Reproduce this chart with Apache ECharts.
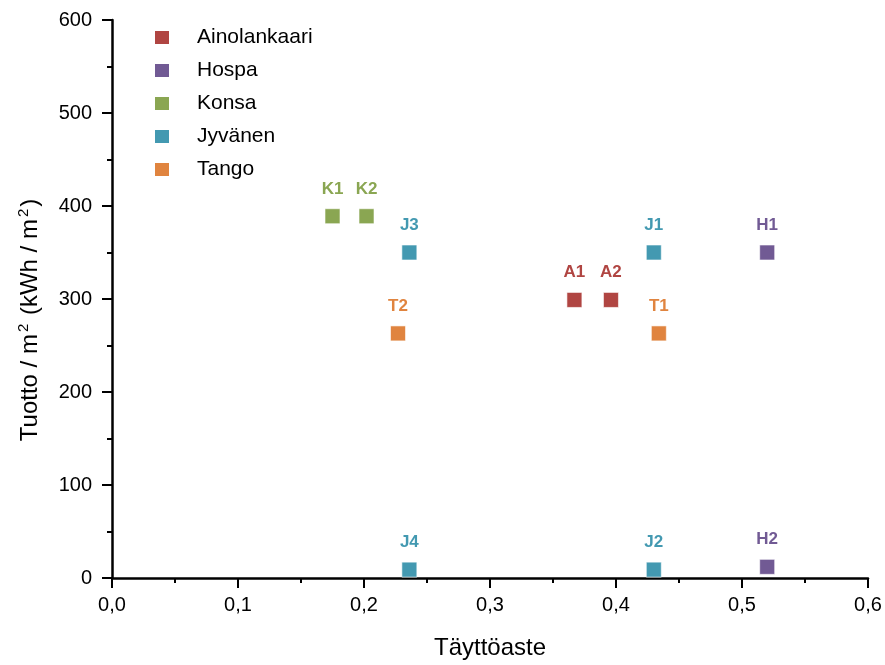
<!DOCTYPE html>
<html>
<head>
<meta charset="utf-8">
<script src="https://cdn.jsdelivr.net/npm/echarts@6/dist/echarts.min.js"></script>
<style>
  html, body { margin: 0; padding: 0; background: #fff; }
  #chart { width: 885px; height: 665px; }
</style>
</head>
<body>
<div id="chart"></div>
<script>
// Täyttöaste (x) vs. tuotto per m² (y), one series per site
const seriesNames = ['Ainolankaari', 'Hospa', 'Konsa', 'Jyvänen', 'Tango'];
const seriesColors = ['#B04542', '#715A94', '#8AA652', '#4399B1', '#E0843F'];

const ainolankaariX = [0.367, 0.396];
const ainolankaariY = [299, 299];
const ainolankaariLabels = ['A1', 'A2'];

const hospaX = [0.520, 0.520];
const hospaY = [350, 12];
const hospaLabels = ['H1', 'H2'];

const konsaX = [0.175, 0.202];
const konsaY = [389, 389];
const konsaLabels = ['K1', 'K2'];

const jyvanenX = [0.430, 0.430, 0.236, 0.236];
const jyvanenY = [350, 9, 350, 9];
const jyvanenLabels = ['J1', 'J2', 'J3', 'J4'];

const tangoX = [0.434, 0.227];
const tangoY = [263, 263];
const tangoLabels = ['T1', 'T2'];

const xTicks = [0, 0.1, 0.2, 0.3, 0.4, 0.5, 0.6];
const yTicks = [0, 100, 200, 300, 400, 500, 600];

const groups = [
  [ainolankaariX, ainolankaariY, ainolankaariLabels],
  [hospaX, hospaY, hospaLabels],
  [konsaX, konsaY, konsaLabels],
  [jyvanenX, jyvanenY, jyvanenLabels],
  [tangoX, tangoY, tangoLabels]
];

const FONT = '"Liberation Sans", Arial, sans-serif';

const series = groups.map((g, i) => ({
  name: seriesNames[i],
  type: 'scatter',
  symbol: 'rect',
  symbolSize: 15,
  data: g[0].map((x, k) => ({ value: [x, g[1][k]], name: g[2][k] })),
  itemStyle: { color: seriesColors[i], borderColor: '#ffffff', borderWidth: 0.6, opacity: 1 },
  label: {
    show: true,
    position: 'top',
    distance: 11,
    formatter: p => p.name,
    color: seriesColors[i],
    fontFamily: FONT,
    fontWeight: 'bold',
    fontSize: 17
  },
  emphasis: { disabled: true }
}));

const chart = echarts.init(document.getElementById('chart'), null, { renderer: 'canvas' });
chart.setOption({
  animation: false,
  backgroundColor: '#ffffff',
  grid: { left: 112, right: 17, top: 20, bottom: 84, containLabel: false },
  legend: {
    orient: 'vertical',
    left: 148,
    top: 22,
    icon: 'rect',
    itemWidth: 16,
    itemHeight: 15,
    itemGap: 12,
    data: seriesNames,
    textStyle: { fontFamily: FONT, fontSize: 21, color: '#000', padding: [0, 0, 0, 22] }
  },
  xAxis: {
    type: 'value',
    min: xTicks[0],
    max: xTicks[xTicks.length - 1],
    interval: 0.1,
    name: 'Täyttöaste',
    nameLocation: 'middle',
    nameGap: 58,
    nameTextStyle: { fontFamily: FONT, fontSize: 24, color: '#000' },
    axisLine: { show: true, onZero: false, lineStyle: { color: '#000', width: 2.5 } },
    axisTick: { show: true, inside: false, length: 10, lineStyle: { color: '#000', width: 2 } },
    minorTick: { show: true, splitNumber: 2, length: 5, lineStyle: { color: '#000', width: 2 } },
    axisLabel: {
      fontFamily: FONT, fontSize: 20, color: '#000', margin: 17,
      formatter: v => v.toFixed(1).replace('.', ',')
    },
    splitLine: { show: false }
  },
  yAxis: {
    type: 'value',
    min: yTicks[0],
    max: yTicks[yTicks.length - 1],
    interval: 100,
    name: '{t|Tuotto / m}{s|2}{t| (kWh / m}{s|2}{t|)}',
    nameLocation: 'middle',
    nameGap: 68,
    nameTextStyle: {
      padding: [0, 42, 0, 0],
      rich: {
        t: { fontFamily: FONT, fontSize: 24, color: '#000', lineHeight: 28 },
        s: { fontFamily: FONT, fontSize: 15, color: '#000', verticalAlign: 'top', lineHeight: 28, padding: [0, 2, 0, 2] }
      }
    },
    axisLine: { show: true, onZero: false, lineStyle: { color: '#000', width: 2.5 } },
    axisTick: { show: true, inside: false, length: 10, lineStyle: { color: '#000', width: 2 } },
    minorTick: { show: true, splitNumber: 2, length: 5, lineStyle: { color: '#000', width: 2 } },
    axisLabel: { fontFamily: FONT, fontSize: 20, color: '#000', margin: 20 },
    splitLine: { show: false }
  },
  series: series
});
</script>
</body>
</html>
